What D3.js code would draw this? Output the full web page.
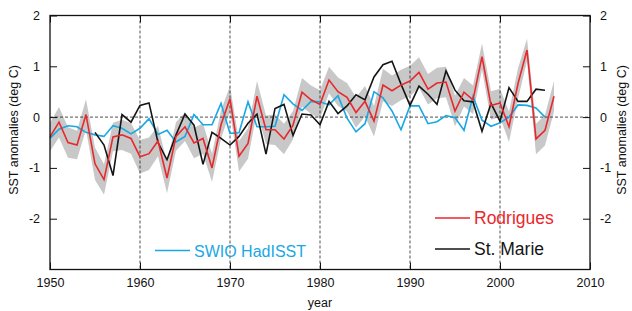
<!DOCTYPE html>
<html lang="en">

<head>
    <meta charset="UTF-8">
    <title>SST anomalies</title>
    <style>
        body {
            margin: 0;
            background: #fff;
        }

        svg text {
            font-family: "Liberation Sans", Arial, Helvetica, sans-serif;
        }
    </style>
</head>

<body>
    <svg></svg>
    <script src="https://d3js.org/d3.v7.min.js"></script>
    <script>
        // Rodrigues coral record 1950-2006 (deg C)
        var rodriguesStart = 1950;
        var rodrigues = [-0.39, -0.10, -0.50, -0.55, 0.05, -0.92, -1.23, -0.39, -0.35, -0.42,
            -0.78, -0.72, -0.47, -1.20, -0.38, -0.19, -0.51, -0.42, -1.00, -0.15,
            0.36, -0.77, -0.52, 0.41, -0.25, -0.25, -0.43, -0.16, 0.49, 0.34,
            0.25, 0.73, 0.50, 0.39, 0.09, 0.31, -0.08, 0.63, 0.52, 0.63,
            0.71, 0.88, 0.55, 0.67, 0.69, 0.12, 0.49, 0.34, 1.19, 0.23,
            0.28, -0.19, 0.66, 1.32, -0.43, -0.26, 0.41
        ];
        // half width of the grey error band around Rodrigues
        var rodriguesErr = [0.28, 0.30, 0.30, 0.28, 0.30, 0.32, 0.30, 0.28, 0.30, 0.30,
            0.33, 0.32, 0.30, 0.30, 0.28, 0.28, 0.30, 0.30, 0.28, 0.28,
            0.25, 0.30, 0.30, 0.30, 0.28, 0.30, 0.30, 0.28, 0.28, 0.28,
            0.28, 0.26, 0.28, 0.28, 0.30, 0.30, 0.30, 0.32, 0.30, 0.30,
            0.30, 0.30, 0.30, 0.30, 0.30, 0.30, 0.28, 0.28, 0.26, 0.28,
            0.28, 0.30, 0.30, 0.22, 0.30, 0.30, 0.30
        ];
        // SWIO HadISST 1950-2005
        var hadStart = 1950;
        var hadisst = [-0.42, -0.24, -0.17, -0.19, -0.30, -0.35, -0.38, -0.17, -0.22, -0.33,
            -0.22, -0.03, -0.34, -0.26, -0.49, -0.38, 0.05, -0.15, -0.15, 0.27,
            -0.32, -0.31, 0.30, -0.19, -0.19, -0.18, 0.44, 0.26, 0.13, 0.31,
            0.30, 0.24, 0.42, -0.02, -0.29, -0.13, 0.50, 0.38, 0.12, -0.25,
            0.22, 0.22, -0.13, -0.09, 0.03, -0.01, -0.26, 0.41, -0.06, -0.18,
            -0.11, 0.00, 0.24, 0.23, 0.18, 0.00
        ];
        // St. Marie 1955-2005
        var marieStart = 1955;
        var stMarie = [-0.30, -0.55, -1.15, 0.05, -0.10,
            0.23, 0.28, -0.50, -0.84, -0.35, 0.06, -0.16, -0.93, -0.30, -0.42,
            -0.55, -0.38, -0.12, 0.06, -0.73, 0.17, 0.25, -0.36, 0.06, 0.04,
            -0.15, 0.31, 0.07, 0.22, 0.44, 0.34, 0.79, 1.03, 1.10, 0.65,
            0.23, 0.61, 0.45, 0.25, 0.91, 0.53, 0.32, 0.30, -0.28, 0.27,
            -0.08, 0.58, 0.31, 0.31, 0.55, 0.53
        ];
        var xTicks = [1950, 1960, 1970, 1980, 1990, 2000, 2010];
        var yTicks = [-2, -1, 0, 1, 2];
        var gridYears = [1960, 1970, 1980, 1990, 2000];

        function toPoints(start, values) {
            return values.map(function(v, i) {
                return { year: start + i, value: v };
            });
        }

        var svgWidth = 632,
            svgHeight = 311;
        var margin = { top: 15.5, right: 42, bottom: 41.5, left: 50 };
        var width = svgWidth - margin.left - margin.right;
        var height = svgHeight - margin.top - margin.bottom;

        var svg = d3.select('svg')
            .attr("width", svgWidth)
            .attr("height", svgHeight);
        var g = svg.append("g")
            .attr("transform", "translate(" + margin.left + "," + margin.top + ")");

        var x = d3.scaleLinear().domain([1950, 2010]).range([0, width]);
        var y = d3.scaleLinear().domain([-3, 2]).range([height, 0]);

        var rodPts = toPoints(rodriguesStart, rodrigues);
        rodPts.forEach(function(d, i) { d.err = rodriguesErr[i]; });

        // error band
        var band = d3.area()
            .x(function(d) { return x(d.year); })
            .y0(function(d) { return y(d.value - d.err); })
            .y1(function(d) { return y(d.value + d.err); });
        g.append("path")
            .datum(rodPts)
            .attr("fill", "#c8c8c8")
            .attr("d", band);

        // dotted grid
        g.selectAll(".vgrid")
            .data(gridYears)
            .enter().append("line")
            .attr("x1", function(d) { return x(d); })
            .attr("x2", function(d) { return x(d); })
            .attr("y1", 0)
            .attr("y2", height)
            .attr("stroke", "#222")
            .attr("stroke-width", 0.8)
            .attr("stroke-dasharray", "3,2");
        g.append("line")
            .attr("x1", 0)
            .attr("x2", width)
            .attr("y1", y(0))
            .attr("y2", y(0))
            .attr("stroke", "#222")
            .attr("stroke-width", 0.8)
            .attr("stroke-dasharray", "3,2");

        var line = d3.line()
            .x(function(d) { return x(d.year); })
            .y(function(d) { return y(d.value); });

        var series = [
            { data: toPoints(hadStart, hadisst), color: "#18a8e4" },
            { data: toPoints(marieStart, stMarie), color: "#151515" },
            { data: rodPts, color: "#e8282c" }
        ];
        series.forEach(function(s) {
            g.append("path")
                .datum(s.data)
                .attr("fill", "none")
                .attr("stroke", s.color)
                .attr("stroke-width", 1.6)
                .attr("d", line);
        });

        // axes, ticks pointing inward
        var fmt = function(d) { return String(d); };
        var axes = [
            g.append("g").attr("transform", "translate(0," + height + ")")
                .call(d3.axisBottom(x).tickValues(xTicks).tickSize(-7).tickPadding(9).tickFormat(fmt)),
            g.append("g")
                .call(d3.axisTop(x).tickValues(xTicks).tickSize(-7).tickFormat("")),
            g.append("g")
                .call(d3.axisLeft(y).tickValues(yTicks).tickSize(-7).tickPadding(10).tickFormat(fmt)),
            g.append("g").attr("transform", "translate(" + width + ",0)")
                .call(d3.axisRight(y).tickValues(yTicks).tickSize(-7).tickPadding(10).tickFormat(fmt))
        ];
        axes.forEach(function(a) {
            a.select(".domain").remove();
            a.selectAll("line").attr("stroke", "#111").attr("stroke-width", 1);
            a.selectAll("text")
                .attr("fill", "#111")
                .style("font-size", "12.5px")
                .style("font-family", '"Liberation Sans", Arial, sans-serif');
        });

        g.append("rect")
            .attr("width", width)
            .attr("height", height)
            .attr("fill", "none")
            .attr("stroke", "#111")
            .attr("stroke-width", 1.3);

        // axis titles
        svg.append("text")
            .attr("x", 320)
            .attr("y", 307)
            .attr("text-anchor", "middle")
            .style("font-size", "12.5px")
            .attr("fill", "#111")
            .text("year");
        [18, 626].forEach(function(px) {
            svg.append("text")
                .attr("transform", "translate(" + px + ",130) rotate(-90)")
                .attr("text-anchor", "middle")
                .style("font-size", "12.5px")
                .attr("fill", "#111")
                .text("SST anomalies (deg C)");
        });

        // legend
        var legend = [
            { name: "SWIO HadISST", color: "#18a8e4", x0: 155, yy: 250.5, size: 16 },
            { name: "Rodrigues", color: "#e8282c", x0: 435, yy: 218, size: 17.5 },
            { name: "St. Marie", color: "#151515", x0: 435, yy: 249, size: 17.5 }
        ];
        legend.forEach(function(d) {
            svg.append("line")
                .attr("x1", d.x0)
                .attr("x2", d.x0 + 35)
                .attr("y1", d.yy)
                .attr("y2", d.yy)
                .attr("stroke", d.color)
                .attr("stroke-width", 1.6);
            svg.append("text")
                .attr("x", d.x0 + 39)
                .attr("y", d.yy + 6)
                .attr("fill", d.color)
                .style("font-size", d.size + "px")
                .text(d.name);
        });
    </script>
</body>

</html>
